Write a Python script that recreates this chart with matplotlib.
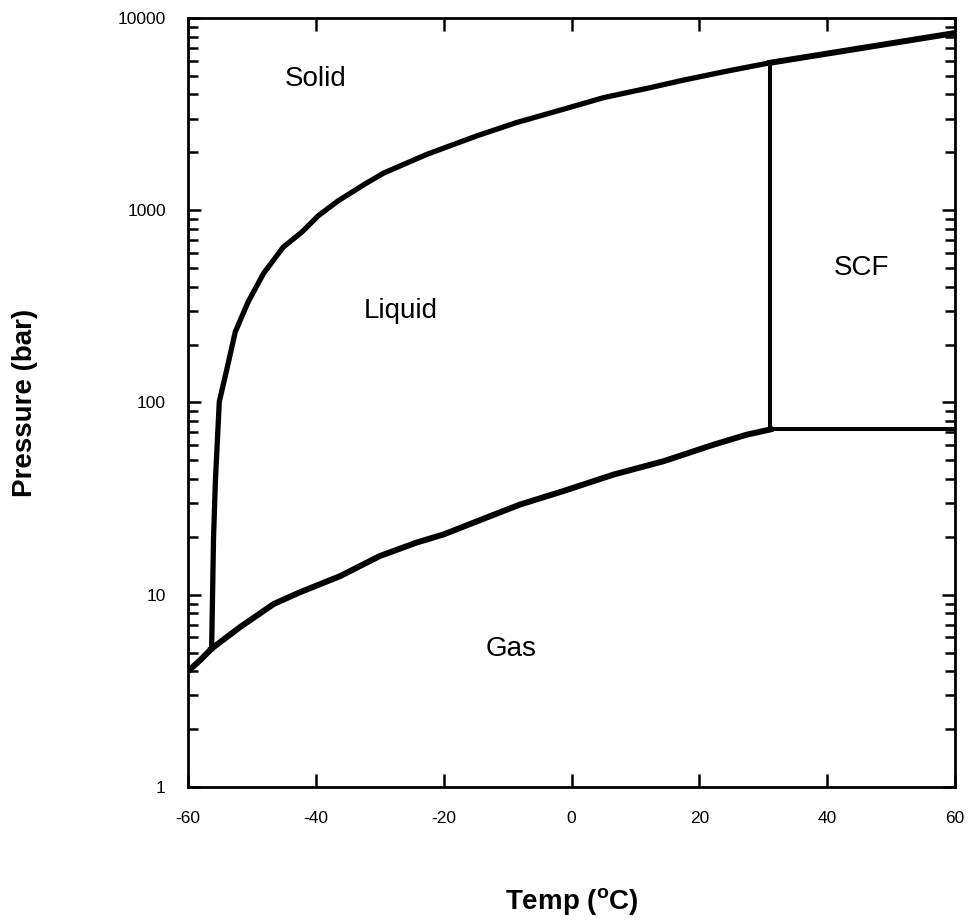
import matplotlib
matplotlib.use("Agg")
import matplotlib.pyplot as plt
from matplotlib.ticker import LogLocator, FixedLocator, NullFormatter, FuncFormatter

plt.rcParams['font.family'] = ['Liberation Sans', 'DejaVu Sans']
plt.rcParams['mathtext.fontset'] = 'custom'
plt.rcParams['mathtext.rm'] = 'Liberation Sans'
plt.rcParams['mathtext.bf'] = 'Liberation Sans:bold'
plt.rcParams['axes.unicode_minus'] = False

# CO2 phase boundaries (T in degC, P in bar)
subl_T = [-60.0, -58.0, -56.3]
subl_P = [4.0, 4.6, 5.25]

vap_T = [-56.3, -51.9, -46.6, -42.5, -36.2, -30.0, -24.2, -20.0, -13.3,
         -8.0, -1.3, 6.6, 14.4, 22.2, 27.4, 31.1]
vap_P = [5.25, 6.77, 8.95, 10.3, 12.5, 15.9, 18.7, 20.6, 25.2,
         29.5, 34.6, 42.2, 49.5, 60.3, 68.0, 72.4]

melt_T = [-56.3, -56.0, -55.7, -55.1, -53.9, -52.6, -50.6, -48.2, -45.1,
          -42.2, -39.6, -36.5, -32.3, -29.4, -22.6, -14.8, -8.6, -1.3,
          5.0, 12.3, 17.5, 24.3, 31.1]
melt_P = [5.25, 20, 40, 101, 150, 233, 333, 468, 643,
          769, 937, 1120, 1370, 1560, 1955, 2437, 2858, 3350,
          3850, 4340, 4750, 5290, 5850]

hi_T = [31.1, 60.0]
hi_P = [5850, 8350]

crit_T = 31.1
crit_P = 72.4

labels = ["Solid", "Liquid", "SCF", "Gas"]
label_T = [-40.0, -26.7, 45.3, -9.5]
label_P = [4800, 300, 500, 5.25]

fig = plt.figure(figsize=(9.68, 9.22), dpi=100)
ax = fig.add_axes([0.1942, 0.1464, 0.7924, 0.8341])

ax.plot(subl_T, subl_P, color='black', lw=4.3, solid_capstyle='butt')
ax.plot(vap_T, vap_P, color='black', lw=4.3, solid_joinstyle='round')
ax.plot(melt_T, melt_P, color='black', lw=3.8, solid_joinstyle='round')
ax.plot(hi_T, hi_P, color='black', lw=4.3)
ax.plot([crit_T, crit_T], [crit_P, hi_P[0]], color='black', lw=2.9)
ax.plot([crit_T, 60], [crit_P, crit_P], color='black', lw=2.9)

for s, t, p in zip(labels, label_T, label_P):
    ax.text(t, p, s, fontsize=20, ha='center', va='center')

ax.set_yscale('log')
ax.set_xlim(-60, 60)
ax.set_ylim(1, 10000)
ax.xaxis.set_major_locator(FixedLocator([-60, -40, -20, 0, 20, 40, 60]))
ax.yaxis.set_major_locator(LogLocator(base=10))
ax.yaxis.set_minor_locator(LogLocator(base=10, subs=range(2, 10)))
ax.yaxis.set_minor_formatter(NullFormatter())
ax.yaxis.set_major_formatter(FuncFormatter(lambda v, p: f"{v:g}"))

ax.tick_params(which='major', direction='in', length=9.5, width=1.8,
               top=True, right=True, labelsize=12.5)
ax.tick_params(axis='x', which='major', pad=17)
ax.tick_params(axis='y', which='major', pad=16)
ax.tick_params(which='minor', direction='in', length=7, width=1.8,
               top=True, right=True)
for sp in ax.spines.values():
    sp.set_linewidth(2)

ax.set_xlabel(r'Temp ($^{\mathbf{o}}$C)', fontsize=20, fontweight='bold', labelpad=44)
ax.set_ylabel('Pressure (bar)', fontsize=20, fontweight='bold', labelpad=57)

fig.savefig('out.png', dpi=100)
